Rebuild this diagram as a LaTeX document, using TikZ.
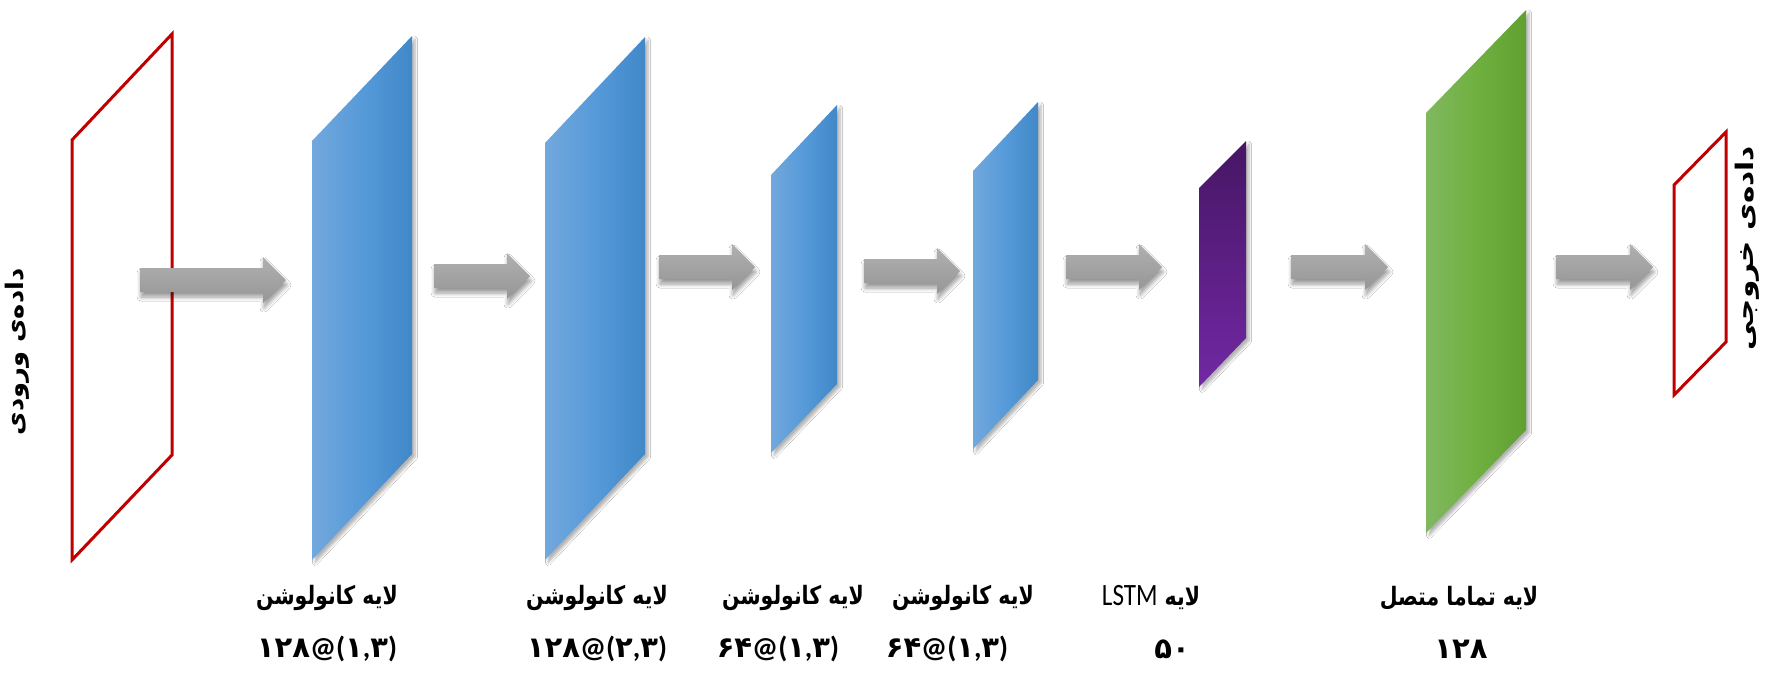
\documentclass[tikz,border=0pt]{standalone}
\usepackage{fontspec}
\TeXXeTstate=1
\newfontfamily\fa[Script=Arabic]{DejaVu Sans}
\newfontfamily\lat{Carlito}
\usetikzlibrary{shadows.blur}
\definecolor{blueL}{RGB}{114,168,221}
\definecolor{blueM}{RGB}{86,154,217}
\definecolor{blueR}{RGB}{64,136,200}
\definecolor{greenL}{RGB}{128,184,96}
\definecolor{greenM}{RGB}{112,176,64}
\definecolor{greenR}{RGB}{96,160,50}
\definecolor{purpT}{RGB}{70,22,100}
\definecolor{purpB}{RGB}{114,40,164}
\definecolor{frameRed}{RGB}{192,0,0}
\definecolor{arrT}{RGB}{176,176,176}
\definecolor{arrB}{RGB}{150,150,150}
\newcommand\pd[1]{{\fa\bfseries #1}}
\newcommand\pl[1]{{\lat #1}}
\newcommand\lb[1]{\scalebox{0.93}[1.15]{#1}}
\newcommand\blkarrow[4]{%
  \path[grayarrow] (#2,#4-12) coordinate (#1s) -- (#3-23,#4-12) -- (#3-23,#4-23)
    -- (#3,#4) coordinate (#1e) -- (#3-23,#4+23) -- (#3-23,#4+12) -- (#2,#4+12) -- cycle;}
\begin{document}
\begin{tikzpicture}[x=1pt,y=-1pt,
  panelshadow/.style={blur shadow={shadow xshift=3pt,shadow yshift=-3pt,shadow blur steps=6,shadow opacity=30,shadow blur radius=2.5pt}},
  bluepanel/.style={panelshadow,left color=blueL,right color=blueR,middle color=blueM},
  greenpanel/.style={panelshadow,left color=greenL,right color=greenR,middle color=greenM},
  purppanel/.style={panelshadow,top color=purpT,bottom color=purpB},
  redframe/.style={draw=frameRed,line width=3pt,line join=miter},
  grayarrow/.style={blur shadow={shadow xshift=1pt,shadow yshift=-5pt,shadow blur steps=6,shadow opacity=40,shadow blur radius=4pt},top color=arrT,bottom color=arrB},
  lbl/.style={inner sep=0pt,font=\fontsize{22}{26}\fa\bfseries},
  num/.style={inner sep=0pt,font=\fontsize{29}{32}\fa\bfseries},
  side/.style={inner sep=0pt,rotate=90,font=\fontsize{22}{26}\fa\bfseries}]
\useasboundingbox[fill=white] (0,0) rectangle (1767,673);

% input frame
\draw[redframe] (72,140) coordinate (in1) -- (172,34) -- (172,455) -- (72,560) -- cycle;
% panels
\shade[bluepanel] (312,141) coordinate (c1) -- (412,36) -- (412,454) -- (312,560) -- cycle;
\shade[bluepanel] (545,143) coordinate (c2) -- (645,37) -- (645,454) -- (545,560) -- cycle;
\shade[bluepanel] (771,175) coordinate (c3) -- (837,105) -- (837,384) -- (771,453) -- cycle;
\shade[bluepanel] (973,171) coordinate (c4) -- (1038,102) -- (1038,380) -- (973,449) -- cycle;
\shade[purppanel] (1199,188) coordinate (c5) -- (1246,141) -- (1246,338) -- (1199,387) -- cycle;
\shade[greenpanel] (1426,113) coordinate (c6) -- (1526,10) -- (1526,430) -- (1426,533) -- cycle;
% output frame
\draw[redframe] (1674,185) coordinate (out1) -- (1726,132) -- (1726,342) -- (1674,395) -- cycle;

% arrows
\blkarrow{a1}{140}{286}{280}
\blkarrow{a2}{434}{530}{276}
\blkarrow{a3}{659}{755}{267}
\blkarrow{a4}{864}{960}{271}
\blkarrow{a5}{1066}{1162}{267}
\blkarrow{a6}{1291}{1388}{267}
\blkarrow{a7}{1556}{1653}{267}

% side labels
\node[side] (inl) at (17,352) {\scalebox{1.17}[1.1]{\beginR داده‌ی ورودی\endR}};
\node[side] (outl) at (1747,248) {\scalebox{1.34}[1.1]{\beginR داده‌ی خروجی\endR}};

% bottom labels
\node[lbl] (l1) at (327,598) {\lb{\beginR لایه کانولوشن\endR}};
\node[lbl] (l2) at (597,598) {\lb{\beginR لایه کانولوشن\endR}};
\node[lbl] (l3) at (793,598) {\lb{\beginR لایه کانولوشن\endR}};
\node[lbl] (l4) at (963,598) {\lb{\beginR لایه کانولوشن\endR}};
\node[lbl] (l5) at (1151,598) {\lb{\beginR لایه \beginL{\fontsize{27}{30}\lat\mdseries LSTM}\endL\endR}};
\node[lbl] (l6) at (1459,598) {\lb{\beginR لایه تماما متصل\endR}};

\node[num] (n1) at (327,649) {\pd{۱۲۸}\pl{@(}\pd{۱}\pl{,}\pd{۳}\pl{)}};
\node[num] (n2) at (597,649) {\pd{۱۲۸}\pl{@(}\pd{۲}\pl{,}\pd{۳}\pl{)}};
\node[num] (n3) at (778,649) {\pd{۶۴}\pl{@(}\pd{۱}\pl{,}\pd{۳}\pl{)}};
\node[num] (n4) at (947,649) {\pd{۶۴}\pl{@(}\pd{۱}\pl{,}\pd{۳}\pl{)}};
\node[num] (n5) at (1172,649) {\pd{۵۰}};
\node[num] (n6) at (1461,649) {\pd{۱۲۸}};
\end{tikzpicture}
\end{document}
